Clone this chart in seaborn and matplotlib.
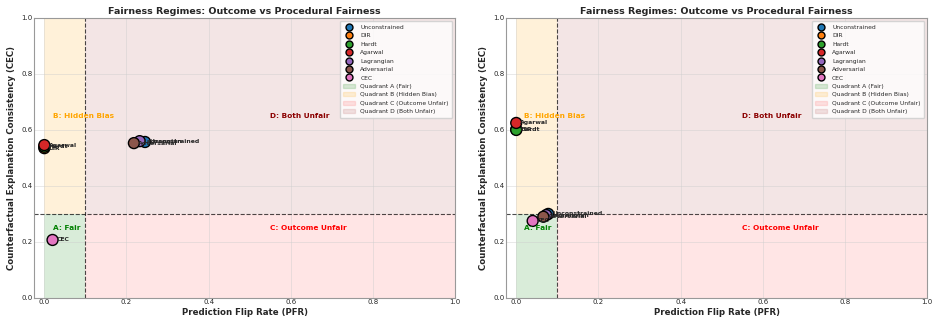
import matplotlib
matplotlib.use("Agg")
import matplotlib.pyplot as plt
import matplotlib.patches as mpatches
from matplotlib.lines import Line2D
import seaborn as sns
import pandas as pd

sns.set_theme(style="whitegrid")
plt.rcParams['font.family'] = ['DejaVu Sans']

methods = ["Unconstrained", "DIR", "Hardt", "Agarwal", "Lagrangian", "Adversarial", "CEC"]
colors = ["#1f77b4", "#ff7f0e", "#2ca02c", "#d62728", "#9467bd", "#8c564b", "#e377c2"]

# Left panel
pfr_left = [0.245, 0.0, 0.0, 0.0, 0.232, 0.218, 0.02]
cec_left = [0.557, 0.535, 0.540, 0.546, 0.560, 0.553, 0.207]
# Right panel
pfr_right = [0.078, 0.0, 0.0, 0.0, 0.073, 0.066, 0.040]
cec_right = [0.300, 0.602, 0.600, 0.625, 0.296, 0.290, 0.275]

pfr_thresh = 0.1
cec_thresh = 0.3

fig = plt.figure(figsize=(9.38, 3.27), dpi=100)
axes = [fig.add_axes([0.0363, 0.089, 0.449, 0.856]),
        fig.add_axes([0.5394, 0.089, 0.449, 0.856])]

for ax, xs, ys in zip(axes, [pfr_left, pfr_right], [cec_left, cec_right]):
    ax.set_xlim(-0.025, 1.0)
    ax.set_ylim(0, 1.0)
    ax.fill_between([0, pfr_thresh], 0, cec_thresh, color="green", alpha=0.15, lw=0, zorder=0)
    ax.fill_between([0, pfr_thresh], cec_thresh, 1, color="orange", alpha=0.15, lw=0, zorder=0)
    ax.fill_between([pfr_thresh, 1], 0, cec_thresh, color="red", alpha=0.1, lw=0, zorder=0)
    ax.fill_between([pfr_thresh, 1], cec_thresh, 1, color="darkred", alpha=0.1, lw=0, zorder=0)
    ax.axvline(pfr_thresh, color="black", ls="--", lw=0.8, alpha=0.7, zorder=1)
    ax.axhline(cec_thresh, color="black", ls="--", lw=0.8, alpha=0.7, zorder=1)

    df = pd.DataFrame({"PFR": xs, "CEC": ys, "Method": methods})
    sns.scatterplot(data=df, x="PFR", y="CEC", hue="Method", hue_order=methods,
                    palette=colors, s=62, edgecolor="black", linewidth=1.0,
                    legend=False, ax=ax, zorder=3)
    for m, x, y in zip(methods, xs, ys):
        ax.annotate(m, (x, y), xytext=(3, 0), textcoords="offset points",
                    fontsize=4.4, fontweight="bold", va="center", zorder=4)

    ax.text(0.02, 0.25, "A: Fair", color="green", fontsize=5.3, fontweight="bold", va="center")
    ax.text(0.02, 0.65, "B: Hidden Bias", color="orange", fontsize=5.3, fontweight="bold", va="center")
    ax.text(0.55, 0.25, "C: Outcome Unfair", color="red", fontsize=5.3, fontweight="bold", va="center")
    ax.text(0.55, 0.65, "D: Both Unfair", color="darkred", fontsize=5.3, fontweight="bold", va="center")

    ax.set_xlabel("Prediction Flip Rate (PFR)", fontsize=6.2, fontweight="bold", labelpad=2)
    ax.set_ylabel("Counterfactual Explanation Consistency (CEC)", fontsize=6.2, fontweight="bold", labelpad=4)
    ax.set_title("Fairness Regimes: Outcome vs Procedural Fairness", fontsize=6.8, fontweight="bold", pad=3)
    ax.tick_params(labelsize=5, pad=1, length=0)
    ax.set_xticks([0.0, 0.2, 0.4, 0.6, 0.8, 1.0])
    ax.set_yticks([0.0, 0.2, 0.4, 0.6, 0.8, 1.0])
    ax.grid(True, alpha=0.5, lw=0.6)
    for sp in ax.spines.values():
        sp.set_color("#999999")
        sp.set_linewidth(0.8)

    handles = [Line2D([0], [0], marker="o", ls="", markerfacecolor=c, markeredgecolor="black",
                      markersize=5, label=m) for m, c in zip(methods, colors)]
    handles += [mpatches.Patch(color="green", alpha=0.15, label="Quadrant A (Fair)"),
                mpatches.Patch(color="orange", alpha=0.15, label="Quadrant B (Hidden Bias)"),
                mpatches.Patch(color="red", alpha=0.1, label="Quadrant C (Outcome Unfair)"),
                mpatches.Patch(color="darkred", alpha=0.1, label="Quadrant D (Both Unfair)")]
    ax.legend(handles=handles, loc="upper right", fontsize=4.3, frameon=True,
              borderpad=0.6, labelspacing=0.55, handlelength=2.0, handletextpad=0.8)

fig.savefig("out.png", dpi=100)
